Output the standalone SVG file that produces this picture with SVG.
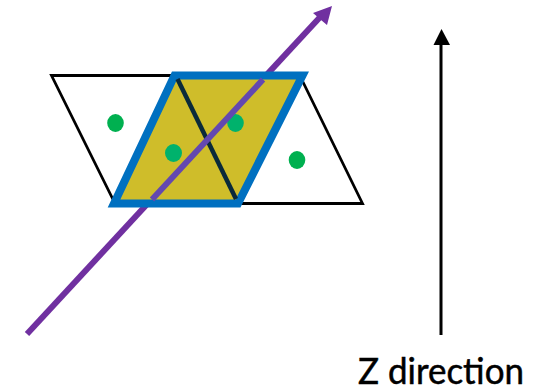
<svg xmlns="http://www.w3.org/2000/svg" width="538" height="391" viewBox="0 0 538 391">
<style>
.dot{fill:#00B050}
.in{fill:#00B26C}
text{font-family:"Lato","Open Sans",sans-serif;font-size:36px;fill:#000;stroke:#000;stroke-width:.5px}
</style>
<rect width="538" height="391" fill="#fff"/>
<g id="sheet">
<path d="M51.500 75.500H180L115 203.500Z M302 80L362.500 203.500H235" fill="#fff" stroke="#000" stroke-width="2.800" stroke-linejoin="miter"/>
</g>
<g id="dots-outer">
<ellipse class="dot" cx="115.500" cy="123" rx="8.300" ry="9"/>
<ellipse class="dot" cx="297" cy="160" rx="8.300" ry="9"/>
</g>
<g id="connectors">
<path d="M27 334L322 15" fill="none" stroke="#7030A0" stroke-width="6"/>
<path d="M332 6L313 13L320 19L321 20L327 25Z" fill="#7030A0"/>
<path d="M441 335V44" fill="none" stroke="#000" stroke-width="3"/>
<path d="M441.500 29L450 45H433.500Z" fill="#000"/>
</g>
<g id="cell">
<path d="M174.500 75.500H302.500L238 203.500H114Z" fill="#CFBD2A" stroke="#0070C0" stroke-width="8" stroke-linejoin="miter"/>
<path d="M177.500 79L236 199" fill="none" stroke="#0A2A3A" stroke-width="4.500"/>
<ellipse class="in" cx="173.500" cy="153" rx="8.500" ry="9"/>
<ellipse class="in" cx="235.500" cy="123" rx="8.300" ry="9"/>
<path d="M263 79.500L152 199.500" fill="none" stroke="#6348B0" stroke-width="6"/>
</g>
<g id="label">
<text x="358" y="384" textLength="166" lengthAdjust="spacingAndGlyphs">Z direction</text>
</g>
</svg>
